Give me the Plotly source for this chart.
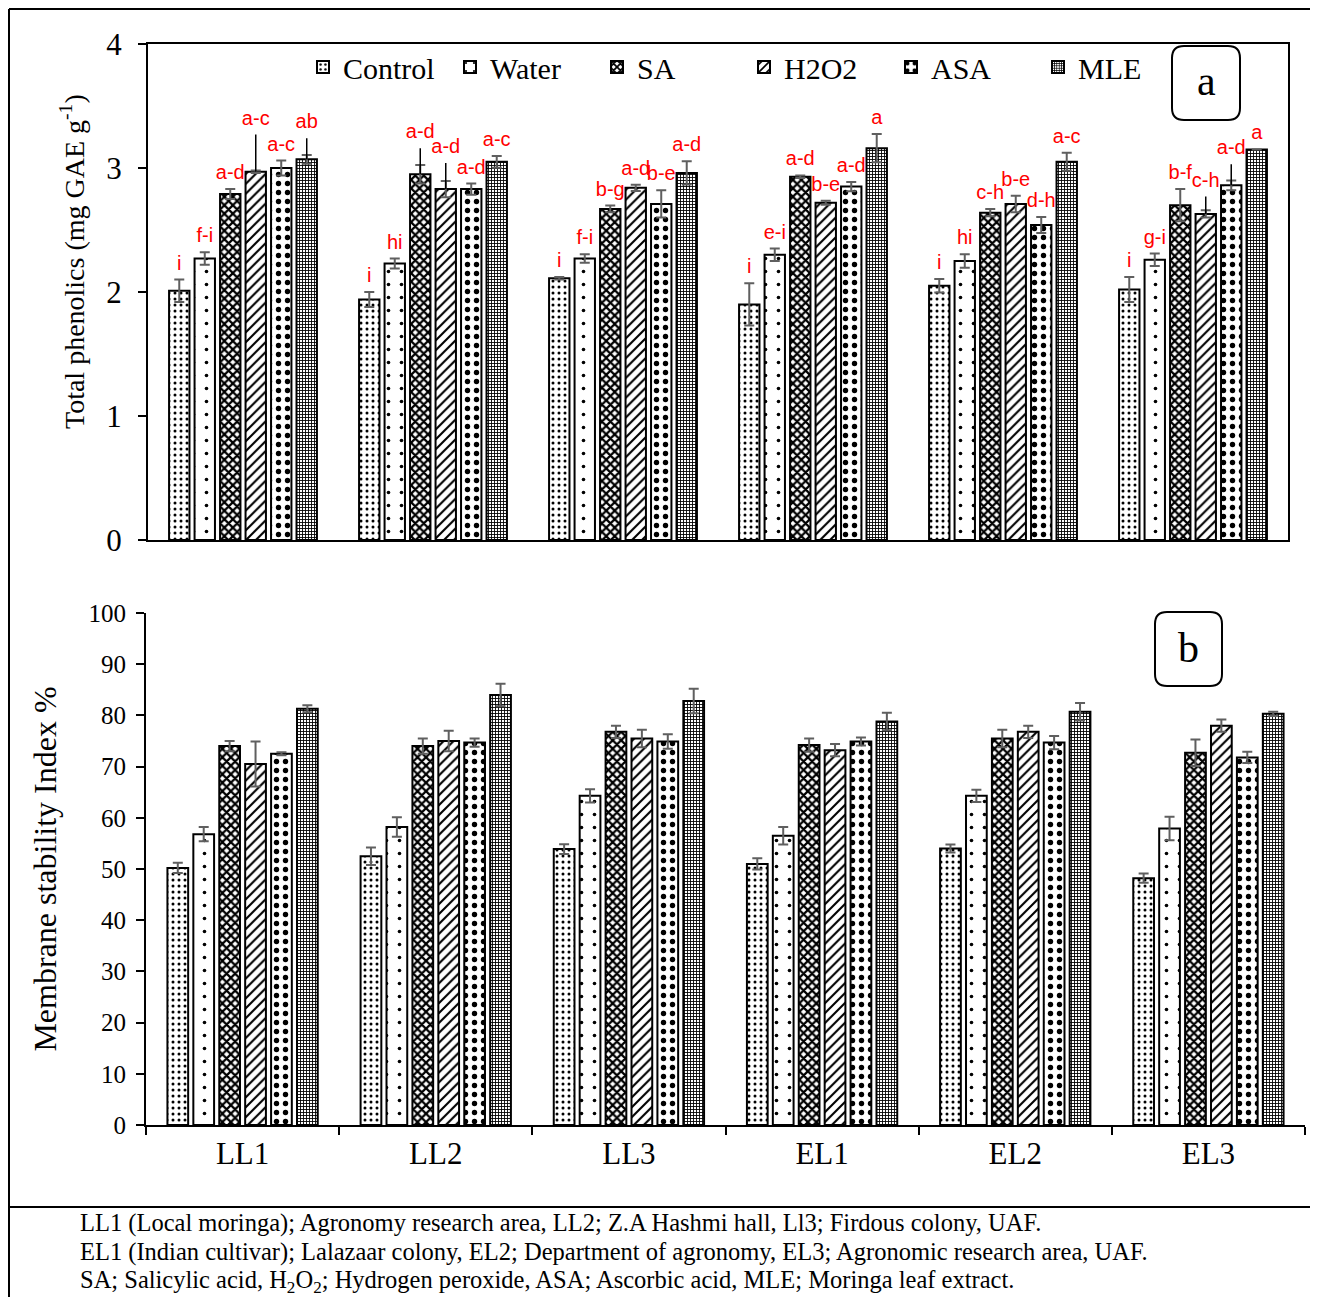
import plotly.graph_objects as go

# the page places the figure 8px from the top-left corner (body margin)
OFF = 8
FW, FH = 1310, 1289


def fx(x):
    return (x - OFF) / FW


def fy(y):
    return 1 - (y - OFF) / FH


categories = ["LL1", "LL2", "LL3", "EL1", "EL2", "EL3"]
treatments = ["Control", "Water", "SA", "H2O2", "ASA", "MLE"]

# ---- Panel a: Total phenolics (mg GAE g-1) ----
phen_control = [2.01, 1.94, 2.11, 1.90, 2.05, 2.02]
phen_water = [2.27, 2.23, 2.27, 2.30, 2.25, 2.26]
phen_sa = [2.79, 2.95, 2.67, 2.93, 2.64, 2.70]
phen_h2o2 = [2.97, 2.83, 2.84, 2.72, 2.71, 2.63]
phen_asa = [3.00, 2.83, 2.71, 2.85, 2.54, 2.86]
phen_mle = [3.07, 3.05, 2.96, 3.16, 3.05, 3.15]

phen_control_se = [0.09, 0.06, 0.01, 0.17, 0.055, 0.10]
phen_water_se = [0.05, 0.04, 0.035, 0.05, 0.054, 0.05]
phen_sa_se = [0.04, 0.075, 0.027, 0.01, 0.03, 0.13]
phen_h2o2_se = [0.01, 0.065, 0.025, 0.016, 0.067, 0.03]
phen_asa_se = [0.06, 0.045, 0.11, 0.038, 0.065, 0.04]
phen_mle_se = [0.035, 0.047, 0.094, 0.114, 0.073, 0.0]

# leader-line tops drawn above some bars (None = no leader)
lead_control = [None] * 6
lead_water = [None] * 6
lead_sa = [None, 3.16, None, None, None, None]
lead_h2o2 = [3.27, 3.04, None, None, None, 2.77]
lead_asa = [None, None, None, None, None, 3.03]
lead_mle = [3.24, None, None, None, None, None]

letters_control = ["i", "i", "i", "i", "i", "i"]
letters_water = ["f-i", "hi", "f-i", "e-i", "hi", "g-i"]
letters_sa = ["a-d", "a-d", "b-g", "a-d", "c-h", "b-f"]
letters_h2o2 = ["a-c", "a-d", "a-d", "b-e", "b-e", "c-h"]
letters_asa = ["a-c", "a-d", "b-e", "a-d", "d-h", "a-d"]
letters_mle = ["ab", "a-c", "a-d", "a", "a-c", "a"]

# ---- Panel b: Membrane stability index % ----
msi_control = [50.2, 52.5, 53.9, 51.0, 54.0, 48.2]
msi_water = [56.8, 58.2, 64.3, 56.5, 64.3, 57.9]
msi_sa = [74.0, 74.0, 76.8, 74.2, 75.5, 72.7]
msi_h2o2 = [70.5, 75.0, 75.5, 73.2, 76.8, 78.0]
msi_asa = [72.5, 74.7, 74.9, 74.9, 74.7, 71.8]
msi_mle = [81.3, 84.0, 82.8, 78.8, 80.7, 80.3]

msi_control_se = [1.0, 1.7, 0.95, 1.1, 0.8, 0.9]
msi_water_se = [1.4, 1.9, 1.3, 1.7, 1.2, 2.3]
msi_sa_se = [1.0, 1.5, 1.2, 1.3, 1.7, 2.6]
msi_h2o2_se = [4.4, 2.0, 1.7, 1.2, 1.2, 1.2]
msi_asa_se = [0.3, 0.8, 1.4, 0.8, 1.3, 1.1]
msi_mle_se = [0.7, 2.2, 2.4, 1.7, 1.7, 0.4]

footer_lines = [
    "LL1 (Local moringa); Agronomy research area, LL2; Z.A Hashmi hall, Ll3; Firdous colony, UAF.",
    "EL1 (Indian cultivar); Lalazaar colony, EL2; Department of agronomy, EL3; Agronomic research area, UAF.",
    "SA; Salicylic acid, H<sub>2</sub>O<sub>2</sub>; Hydrogen peroxide, ASA; Ascorbic acid, MLE; Moringa leaf extract.",
]

phen = [phen_control, phen_water, phen_sa, phen_h2o2, phen_asa, phen_mle]
phen_se = [phen_control_se, phen_water_se, phen_sa_se, phen_h2o2_se, phen_asa_se, phen_mle_se]
leads = [lead_control, lead_water, lead_sa, lead_h2o2, lead_asa, lead_mle]
letters = [letters_control, letters_water, letters_sa, letters_h2o2, letters_asa, letters_mle]
msi = [msi_control, msi_water, msi_sa, msi_h2o2, msi_asa, msi_mle]
msi_se = [msi_control_se, msi_water_se, msi_sa_se, msi_h2o2_se, msi_asa_se, msi_mle_se]

patterns = [
    dict(shape=".", size=6, solidity=0.2),
    dict(shape=".", size=13, solidity=0.06),
    dict(shape="x", size=6, solidity=0.6),
    dict(shape="/", size=7, solidity=0.3),
    dict(shape=".", size=9, solidity=0.28),
    dict(shape="+", size=3, solidity=0.5),
]

SERIF = "Liberation Serif"
ERR_COLOR = "#5f5f5f"
LETTER_PAD = 0.04  # small gap between error bar and significance letter

fig = go.Figure()

for i, name in enumerate(treatments):
    pat = dict(fgcolor="black", bgcolor="white", fillmode="replace", **patterns[i])
    fig.add_trace(go.Bar(
        x=categories, y=phen[i], name=name, xaxis="x", yaxis="y",
        marker=dict(color="white", pattern=pat, line=dict(color="black", width=2)),
        error_y=dict(type="data", array=phen_se[i], color=ERR_COLOR, thickness=2, width=5),
        offsetgroup=name, legendgroup=name,
    ))
for i, name in enumerate(treatments):
    pat = dict(fgcolor="black", bgcolor="white", fillmode="replace", **patterns[i])
    fig.add_trace(go.Bar(
        x=categories, y=msi[i], name=name, xaxis="x2", yaxis="y2", showlegend=False,
        marker=dict(color="white", pattern=pat, line=dict(color="black", width=2)),
        error_y=dict(type="data", array=msi_se[i], color=ERR_COLOR, thickness=2, width=5),
        offsetgroup=name, legendgroup=name,
    ))

# letters and leader lines (grouped scatter so they align with bars)
for i, name in enumerate(treatments):
    tops = []
    for v, s, ld in zip(phen[i], phen_se[i], leads[i]):
        t = v + s
        if ld is not None:
            t = max(t, ld)
        tops.append(t + LETTER_PAD)
    fig.add_trace(go.Scatter(
        x=categories, y=tops, mode="text", text=letters[i], textposition="top center",
        textfont=dict(family="Liberation Sans", size=20, color="red"),
        xaxis="x", yaxis="y", showlegend=False, offsetgroup=name, hoverinfo="skip",
    ))
for i, name in enumerate(treatments):
    lx, ly = [], []
    for c, v, ld in zip(categories, phen[i], leads[i]):
        if ld is not None:
            lx += [c, c, None]
            ly += [v, ld, None]
    if lx:
        fig.add_trace(go.Scatter(
            x=lx, y=ly, mode="lines", line=dict(color="black", width=1.5),
            xaxis="x", yaxis="y", showlegend=False, offsetgroup=name, hoverinfo="skip",
            connectgaps=False,
        ))


def rounded_path(x0, y0, x1, y1, r):
    def P(x, y):
        return f"{fx(x):.5f},{fy(y):.5f}"
    return (f"M {P(x0 + r, y0)} L {P(x1 - r, y0)} Q {P(x1, y0)} {P(x1, y0 + r)} "
            f"L {P(x1, y1 - r)} Q {P(x1, y1)} {P(x1 - r, y1)} "
            f"L {P(x0 + r, y1)} Q {P(x0, y1)} {P(x0, y1 - r)} "
            f"L {P(x0, y0 + r)} Q {P(x0, y0)} {P(x0 + r, y0)} Z")


shapes = [
    dict(type="line", xref="paper", yref="paper", x0=fx(9), x1=fx(1318), y0=fy(9), y1=fy(9),
         line=dict(color="black", width=2)),
    dict(type="line", xref="paper", yref="paper", x0=fx(9), x1=fx(9), y0=fy(9), y1=fy(1297),
         line=dict(color="black", width=2)),
    dict(type="line", xref="paper", yref="paper", x0=fx(9), x1=fx(1318), y0=fy(1207), y1=fy(1207),
         line=dict(color="black", width=2)),
    dict(type="path", xref="paper", yref="paper", path=rounded_path(1172, 46, 1240, 120, 12),
         line=dict(color="black", width=2), fillcolor="white"),
    dict(type="path", xref="paper", yref="paper", path=rounded_path(1155, 612, 1222, 686, 12),
         line=dict(color="black", width=2), fillcolor="white"),
]

annotations = [
    dict(text="a", x=fx(1206), y=fy(81), xref="paper", yref="paper", showarrow=False,
         xanchor="center", yanchor="middle", font=dict(family=SERIF, size=42, color="black")),
    dict(text="b", x=fx(1188), y=fy(648), xref="paper", yref="paper", showarrow=False,
         xanchor="center", yanchor="middle", font=dict(family=SERIF, size=42, color="black")),
    dict(text="Total phenolics (mg GAE g<sup>-1</sup>)", x=fx(72), y=fy(262), xref="paper",
         yref="paper", showarrow=False, textangle=-90, xanchor="center", yanchor="middle",
         font=dict(family=SERIF, size=28, color="black")),
]
footer_y = [1223, 1252, 1281]
for line, yy in zip(footer_lines, footer_y):
    annotations.append(dict(text=line, x=fx(78), y=fy(yy), xref="paper", yref="paper",
                            xanchor="left", yanchor="middle", showarrow=False,
                            font=dict(family=SERIF, size=24.5, color="black")))

axis_common = dict(showgrid=False, zeroline=False, linecolor="black", linewidth=2,
                   tickcolor="black", tickwidth=2)

fig.update_layout(
    width=FW, height=FH,
    margin=dict(l=0, r=0, t=0, b=0, autoexpand=False),
    paper_bgcolor="white", plot_bgcolor="white",
    barmode="group", bargap=0.195, bargroupgap=0.2,
    scattermode="group", scattergap=0.195,
    showlegend=True,
    legend=dict(orientation="h", x=fx(303), y=fy(67), xanchor="left", yanchor="middle",
                entrywidth=102, entrywidthmode="pixels", itemwidth=30,
                font=dict(family=SERIF, size=30, color="black"), bgcolor="rgba(0,0,0,0)",
                traceorder="normal"),
    xaxis=dict(domain=[fx(148), fx(1288)], anchor="y", showticklabels=False, ticks="",
               showline=True, mirror=True, type="category", **axis_common),
    yaxis=dict(domain=[fy(540), fy(44)], anchor="x", range=[0, 4], dtick=1, ticks="outside",
               ticklen=8, ticklabelstandoff=10, showline=True, mirror=True,
               tickfont=dict(family=SERIF, size=31, color="black"),
               **axis_common),
    xaxis2=dict(domain=[fx(146), fx(1305)], anchor="y2", type="category", ticks="outside",
                tickson="boundaries", ticklen=8, showline=True,
                tickfont=dict(family=SERIF, size=31, color="black"), **axis_common),
    yaxis2=dict(domain=[fy(1125), fy(613)], anchor="x2", range=[0, 100], dtick=10,
                ticks="outside", ticklen=8, ticklabelstandoff=5, showline=True,
                tickfont=dict(family=SERIF, size=25, color="black"),
                title=dict(text="Membrane stability Index %", standoff=22,
                           font=dict(family=SERIF, size=32, color="black")),
                **axis_common),
    shapes=shapes,
    annotations=annotations,
)

fig.write_html("out.html")
